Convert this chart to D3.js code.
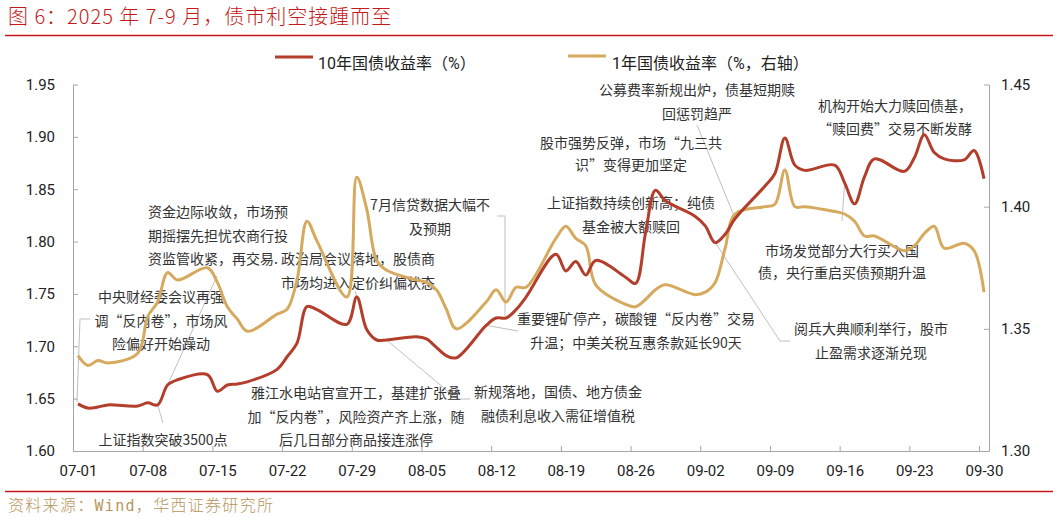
<!DOCTYPE html>
<html>
<head>
<meta charset="utf-8">
<script src="https://cdn.jsdelivr.net/npm/d3@7"></script>
<style>
  body { margin: 0; background: #fff; }
  svg { display: block; }
  .axis path, .axis line { stroke: #a6a6a6; }
  .axis text { font-family: Roboto, "Noto Sans", sans-serif; font-size: 15px; fill: #222; }
  .note { font-family: "Noto Sans CJK SC", sans-serif; font-size: 14px; fill: #333; }
</style>
</head>
<body>
<svg id="chart" width="1053" height="517"></svg>
<script>
// trading days, 07-01 .. 09-30 (09-28 was a make-up working day)
var dates = [
  "07-01","07-02","07-03","07-04","07-07","07-08","07-09","07-10","07-11",
  "07-14","07-15","07-16","07-17","07-18","07-21","07-22","07-23","07-24","07-25",
  "07-28","07-29","07-30","07-31","08-01","08-04","08-05","08-06","08-07","08-08",
  "08-11","08-12","08-13","08-14","08-15","08-18","08-19","08-20","08-21","08-22",
  "08-25","08-26","08-27","08-28","08-29","09-01","09-02","09-03","09-04","09-05",
  "09-08","09-09","09-10","09-11","09-12","09-15","09-16","09-17","09-18","09-19",
  "09-22","09-23","09-24","09-25","09-26","09-28","09-29","09-30"
];

// 10-year CGB yield (%), left axis
var yield10 = [
  1.645,1.641,1.642,1.644,1.643,1.646,1.644,1.663,1.668,
  1.673,1.657,1.663,1.664,1.666,1.678,1.690,1.703,1.738,1.735,
  1.721,1.747,1.716,1.706,1.706,1.709,1.707,1.699,1.691,1.689,
  1.720,1.727,1.727,1.735,1.747,1.788,1.772,1.781,1.768,1.782,
  1.766,1.760,1.808,1.849,1.839,1.824,1.815,1.799,1.807,1.822,
  1.853,1.865,1.899,1.873,1.868,1.873,1.856,1.836,1.862,1.879,
  1.867,1.880,1.902,1.885,1.879,1.878,1.887,1.860
];

// 1-year CGB yield (%), right axis
var yield1 = [
  1.339,1.335,1.337,1.336,1.340,1.355,1.361,1.373,1.370,
  1.375,1.369,1.359,1.354,1.349,1.356,1.358,1.370,1.394,1.386,
  1.363,1.412,1.399,1.378,1.374,1.370,1.369,1.366,1.358,1.350,
  1.361,1.366,1.361,1.367,1.367,1.387,1.392,1.387,1.384,1.368,
  1.360,1.359,1.362,1.366,1.368,1.364,1.365,1.369,1.383,1.397,
  1.400,1.401,1.415,1.400,1.400,1.398,1.397,1.394,1.388,1.388,
  1.382,1.384,1.389,1.392,1.383,1.385,1.382,1.365
];

var tickLabels = ["07-01","07-08","07-15","07-22","07-29","08-05","08-12",
                  "08-19","08-26","09-02","09-09","09-16","09-23","09-30"];
var leftTicks = [1.60, 1.65, 1.70, 1.75, 1.80, 1.85, 1.90, 1.95];
var rightTicks = [1.30, 1.35, 1.40, 1.45];

var seriesNames = ["10年国债收益率（%）", "1年国债收益率（%，右轴）"];
var seriesColors = ["#b23e2b", "#d6aa5e"];

(function() {
  var parse = d3.timeParse("%Y-%m-%d");
  function day(s) { return parse("2025-" + s); }
  function mid(s) { return d3.timeHour.offset(day(s), 12); }

  var svg = d3.select("#chart");
  var plot = { left: 73, right: 989, top: 84.5, bottom: 451 };

  var x = d3.scaleTime().domain([day("07-01"), day("10-01")]).range([plot.left, plot.right]);
  var yL = d3.scaleLinear().domain([1.60, 1.95]).range([plot.bottom, plot.top]);
  var yR = d3.scaleLinear().domain([1.30, 1.45]).range([plot.bottom, plot.top]);

  // header / footer
  svg.append("text").attr("x", 8).attr("y", 24)
    .style("font-family", "'Noto Sans CJK SC', sans-serif").style("font-size", "20px")
    .style("font-weight", 300).style("letter-spacing", "1px").style("fill", "#c41a1a")
    .text("图 6：2025 年 7-9 月，债市利空接踵而至");
  svg.append("line").attr("x1", 5).attr("x2", 1053).attr("y1", 35.5).attr("y2", 35.5)
    .attr("stroke", "#c8161d").attr("stroke-width", 1.5);
  svg.append("line").attr("x1", 5).attr("x2", 1053).attr("y1", 491.5).attr("y2", 491.5)
    .attr("stroke", "#c8161d").attr("stroke-width", 1.5);
  var foot = svg.append("text").attr("x", 8).attr("y", 511)
    .style("font-family", "'Noto Sans CJK SC', sans-serif").style("font-size", "16px")
    .style("font-weight", 300).style("letter-spacing", "1.3px").style("fill", "#b8955c");
  foot.append("tspan").text("资料来源：");
  foot.append("tspan").style("font-family", "'DejaVu Sans Mono', monospace").style("font-size", "15px").text("Wind");
  foot.append("tspan").text("，华西证券研究所");

  // axes
  var tickDates = tickLabels.map(day);
  var halfDay = x(mid("07-01")) - x(day("07-01"));

  var gx = svg.append("g").attr("class", "axis").attr("transform", "translate(0," + plot.bottom + ")")
    .call(d3.axisBottom(x).tickValues(tickDates).tickSize(-5).tickSizeOuter(0)
      .tickPadding(14).tickFormat(function(d, i) { return tickLabels[i]; }));
  gx.selectAll(".tick text").attr("dx", halfDay);

  svg.append("g").attr("class", "axis").attr("transform", "translate(" + plot.left + ",0)")
    .call(d3.axisLeft(yL).tickValues(leftTicks).tickSize(-5).tickSizeOuter(0)
      .tickPadding(18).tickFormat(d3.format(".2f")));

  svg.append("g").attr("class", "axis").attr("transform", "translate(" + plot.right + ",0)")
    .call(d3.axisRight(yR).tickValues(rightTicks).tickSize(-5).tickSizeOuter(0)
      .tickPadding(12).tickFormat(d3.format(".2f")));

  // leader lines and notes
  function at(s, vals, scale) {
    var i = dates.indexOf(s);
    return [x(mid(s)), scale(vals[i])];
  }

  var leaders = [
    [[90, 319], [80, 319], [77, at("07-01", yield10, yL)[1] - 2]],
    [[217, 276], at("07-10", yield10, yL)],
    [[355, 291], at("07-30", yield10, yL)],
    [[497, 216], [505, 216], [505, at("08-13", yield10, yL)[1] - 2]],
    [[163, 423], at("07-09", yield10, yL)],
    [at("08-01", yield10, yL), [457, 399], [470, 399]],
    [at("08-11", yield10, yL), [518, 331]],
    [[697, 125], at("09-05", yield10, yL)],
    [at("09-03", yield10, yL), [780, 341], [790, 341]],
    [[842, 221], at("09-16", yield10, yL)]
  ];

  svg.append("g").selectAll("path").data(leaders).join("path")
    .attr("d", d3.line())
    .attr("fill", "none").attr("stroke", "#bfbfbf").attr("stroke-width", 1);

  var notes = [
    { x: 161, y: 302, lines: ["中央财经委会议再强", "调“反内卷”，市场风", "险偏好开始躁动"] },
    { x: 148, y: 217, anchor: "start", lines: ["资金边际收敛，市场预", "期摇摆先担忧农商行投", "资监管收紧，再交易."] },
    { x: 281, y: 264, anchor: "start", lines: ["政治局会议落地，股债商", "市场均进入定价纠偏状态"] },
    { x: 430, y: 210, lines: ["7月信贷数据大幅不", "及预期"] },
    { x: 163, y: 445, lines: ["上证指数突破3500点"] },
    { x: 356, y: 398, lines: ["雅江水电站官宣开工，基建扩张叠", "加“反内卷”，风险资产齐上涨，随", "后几日部分商品接连涨停"] },
    { x: 558, y: 397, lines: ["新规落地，国债、地方债金", "融债利息收入需征增值税"] },
    { x: 636, y: 324, lines: ["重要锂矿停产，碳酸锂“反内卷”交易", "升温；中美关税互惠条款延长90天"] },
    { x: 631, y: 208, lines: ["上证指数持续创新高；纯债", "基金被大额赎回"] },
    { x: 631, y: 148, lh: 22, lines: ["股市强势反弹，市场“九三共", "识”变得更加坚定"] },
    { x: 697, y: 95, lines: ["公募费率新规出炉，债基短期赎", "回惩罚趋严"] },
    { x: 871, y: 334, lines: ["阅兵大典顺利举行，股市", "止盈需求逐渐兑现"] },
    { x: 895, y: 111, lh: 23, lines: ["机构开始大力赎回债基，", "“赎回费”交易不断发酵"] },
    { x: 842, y: 256, lh: 22, lines: ["市场发觉部分大行买入国", "债，央行重启买债预期升温"] }
  ];

  notes.forEach(function(n) {
    var t = svg.append("text").attr("class", "note")
      .attr("text-anchor", n.anchor || "middle");
    n.lines.forEach(function(s, i) {
      t.append("tspan").attr("x", n.x).attr("y", n.y + i * (n.lh || 23.5)).text(s);
    });
  });

  // series
  var lineL = d3.line().curve(d3.curveCatmullRom.alpha(0.5))
    .x(function(d) { return x(mid(d[0])); }).y(function(d) { return yL(d[1]); });
  var lineR = d3.line().curve(d3.curveCatmullRom.alpha(0.5))
    .x(function(d) { return x(mid(d[0])); }).y(function(d) { return yR(d[1]); });

  svg.append("path").datum(d3.zip(dates, yield1)).attr("d", lineR)
    .attr("fill", "none").attr("stroke", seriesColors[1]).attr("stroke-width", 3)
    .attr("stroke-linejoin", "round");
  svg.append("path").datum(d3.zip(dates, yield10)).attr("d", lineL)
    .attr("fill", "none").attr("stroke", seriesColors[0]).attr("stroke-width", 3)
    .attr("stroke-linejoin", "round");

  // legend
  var legend = [
    { sx: 275, sy: 57, tx: 318 },
    { sx: 568, sy: 56, tx: 612 }
  ];
  legend.forEach(function(l, i) {
    svg.append("line").attr("x1", l.sx).attr("x2", l.sx + 38).attr("y1", l.sy).attr("y2", l.sy)
      .attr("stroke", seriesColors[i]).attr("stroke-width", 3);
    svg.append("text").attr("x", l.tx).attr("y", 69)
      .style("font-family", "Roboto, 'Noto Sans CJK SC', sans-serif").style("font-size", "16px")
      .style("fill", "#222").text(seriesNames[i]);
  });
})();
</script>
</body>
</html>
